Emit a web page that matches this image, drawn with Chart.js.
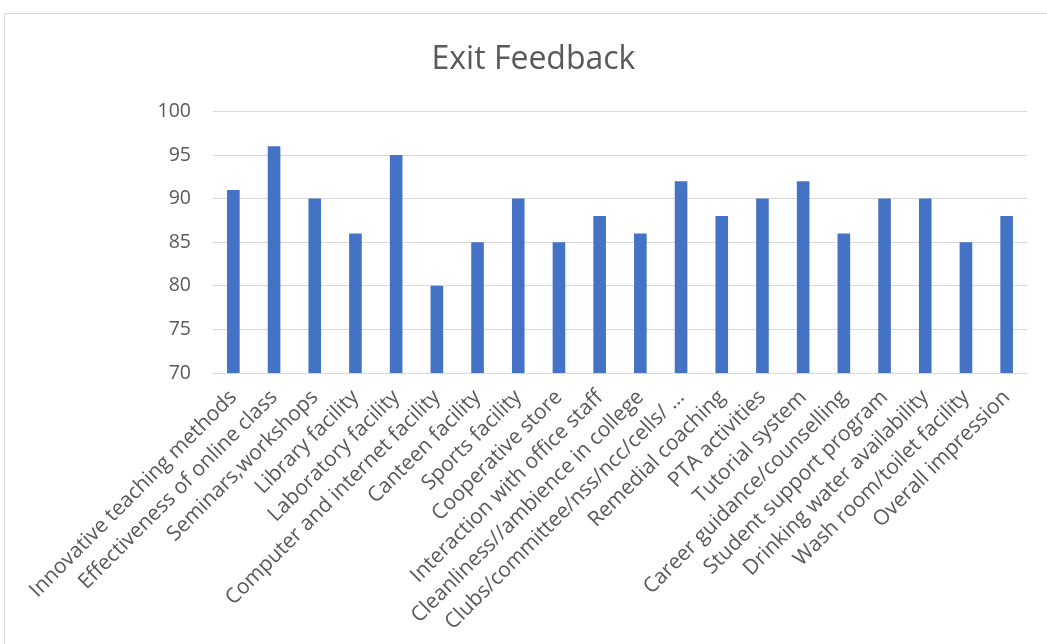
<!DOCTYPE html>
<html>
<head>
<meta charset="utf-8">
<script src="https://cdn.jsdelivr.net/npm/chart.js@4"></script>
<style>
  body { margin: 0; background: #fff; overflow: hidden; }
  #wrap { position: relative; width: 1047px; height: 644px; }
  #frame { position: absolute; left: 4px; top: 13px; width: 1100px; height: 700px; border: 1px solid #d9d9d9; }
  canvas { position: absolute; left: 0; top: 0; }
</style>
</head>
<body>
<div id="wrap">
  <div id="frame"></div>
  <canvas id="feedbackChart" width="1047" height="644"></canvas>
</div>
<script>
const categories = [
  "Innovative teaching methods",
  "Effectiveness of online class",
  "Seminars,workshops",
  "Library facility",
  "Laboratory facility",
  "Computer and internet facility",
  "Canteen facility",
  "Sports facility",
  "Cooperative store",
  "Interaction with office staff",
  "Cleanliness//ambience in college",
  "Clubs/committee/nss/ncc/cells/ …",
  "Remedial coaching",
  "PTA activities",
  "Tutorial system",
  "Career guidance/counselling",
  "Student support program",
  "Drinking water availability",
  "Wash room/toilet facility",
  "Overall impression"
];

const scores = [91, 96, 90, 86, 95, 80, 85, 90, 85, 88, 86, 92, 88, 90, 92, 86, 90, 90, 85, 88];

const textColor = "#595959";
const gridColor = "#d9d9d9";

new Chart(document.getElementById("feedbackChart"), {
  type: "bar",
  data: {
    labels: categories,
    datasets: [{
      label: "Exit Feedback",
      data: scores,
      backgroundColor: "#4472c4",
      categoryPercentage: 1,
      barPercentage: 0.31
    }]
  },
  options: {
    responsive: false,
    animation: false,
    layout: { padding: { top: 41, right: 20, left: 40, bottom: 0 } },
    plugins: {
      legend: { display: false },
      tooltip: { enabled: false },
      title: {
        display: true,
        text: "Exit Feedback",
        color: textColor,
        font: { family: "Open Sans", size: 32, weight: "normal" },
        padding: { top: 0, bottom: 32 }
      }
    },
    scales: {
      y: {
        min: 70,
        max: 100,
        ticks: {
          stepSize: 5,
          color: textColor,
          padding: 22,
          font: { family: "Open Sans", size: 19.5 }
        },
        grid: { color: gridColor, drawTicks: false },
        border: { display: false },
        afterFit: s => { s.width = 173; }
      },
      x: {
        ticks: {
          color: textColor,
          minRotation: 45,
          maxRotation: 45,
          autoSkip: false,
          padding: 4,
          font: { family: "Open Sans", size: 21 }
        },
        grid: { display: false },
        border: { display: false },
        afterFit: s => { s.height = 271; }
      }
    }
  }
});
</script>
</body>
</html>
